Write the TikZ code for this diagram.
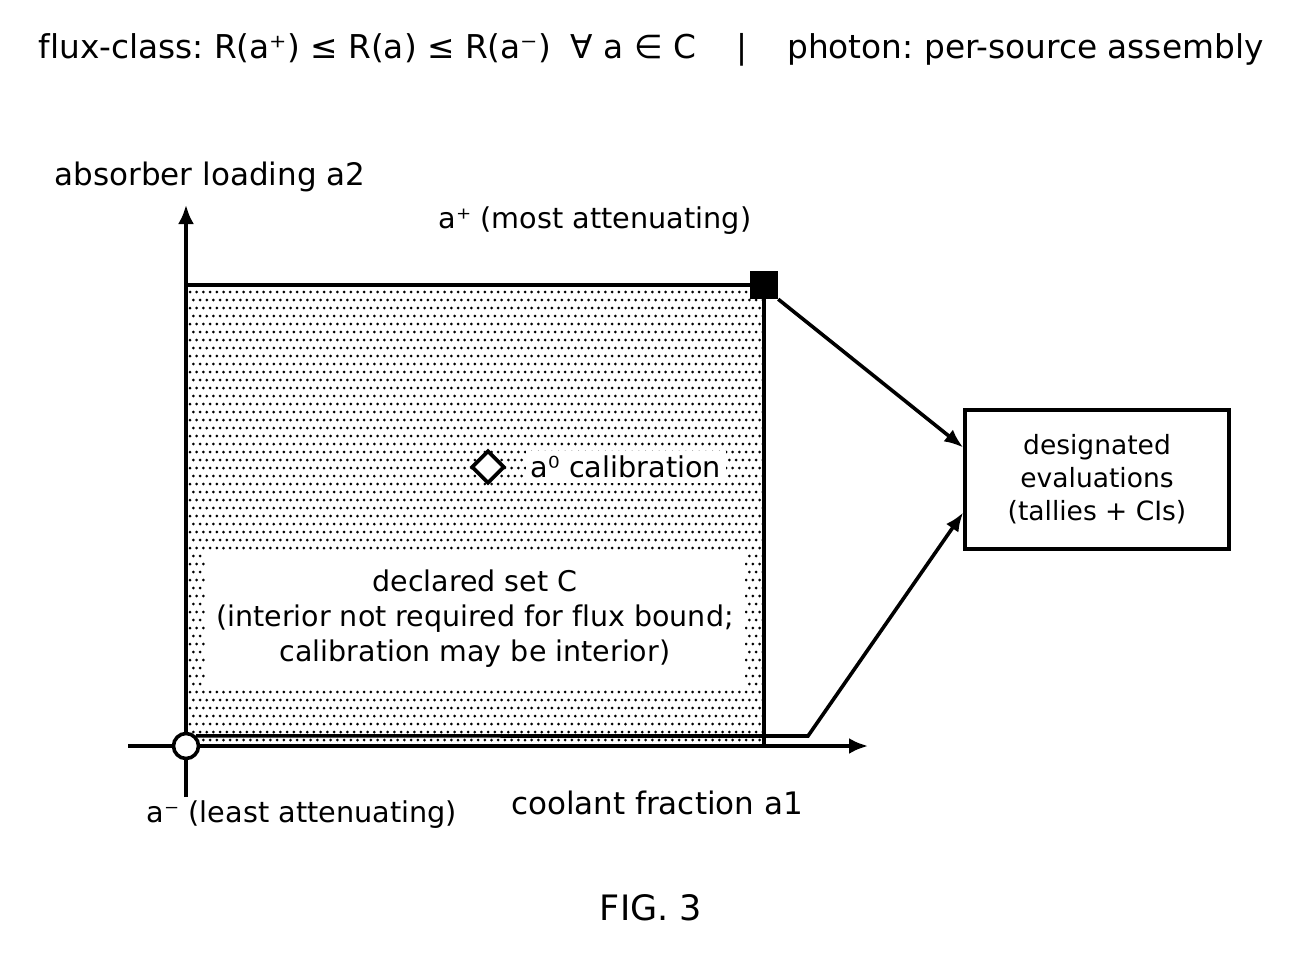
\documentclass[tikz,border=0pt]{standalone}
\usepackage{fontspec}
\setmainfont[Ligatures={NoCommon}]{DejaVu Sans}
\frenchspacing
\usetikzlibrary{arrows.meta,shapes.geometric}
\begin{document}
\begin{tikzpicture}[x=1pt,y=-1pt,
  lbl/.style={inner sep=0pt, font=\fontsize{28.7}{34}\selectfont},
  axlbl/.style={inner sep=0pt, font=\fontsize{31}{36}\selectfont},
  axis/.style={line width=3.6pt, -{Latex[length=19pt,width=16pt]}},
  conn/.style={line width=3.6pt, -{Latex[length=19pt,width=15pt]}},
  edge/.style={line width=3.6pt},
]
\useasboundingbox[fill=white] (0,0) rectangle (1302,958);
% title
\node[inner sep=0pt, font=\fontsize{32.8}{38}\selectfont] (title) at (651,50)
  {flux-class: R(a⁺) ≤ R(a) ≤ R(a⁻)\hspace{20pt}∀ a ∈ C\hspace{40pt}|\hspace{40pt}photon: per-source assembly};
% region C dot fill
\begin{scope}
  \clip (186,285) rectangle (764,746);
  \foreach \j in {0,...,57} {
    \pgfmathsetmacro{\off}{mod(\j,2)*3.35}
    \foreach \i in {0,...,87} {
      \fill ({190+\off+6.7*\i},{292+8*\j}) circle (1.5pt);
    }
  }
\end{scope}
\draw[edge] (186,285) -- (764,285) -- (764,746);
% axes
\draw[axis] (128,746) -- (868,746);
\draw[axis] (186,797) -- (186,205);
\node[axlbl] (ylab) at (210,177) {absorber loading a2};
\node[axlbl] (xlab) at (657,803) {coolant fraction a1};
% interior label
\node[fill=white, inner sep=0pt, minimum width=540pt, minimum height=137pt, align=center,
  font=\fontsize{28.5}{35}\selectfont] (decl) at (475,619)
  {declared set C\\(interior not required for flux bound;\\calibration may be interior)};
% points
\node[fill=black, minimum size=28pt, inner sep=0pt] (amax) at (764,285) {};
\node[circle, draw, fill=white, line width=3.6pt, minimum size=25pt, inner sep=0pt] (amin) at (186,746) {};
\node[diamond, draw, fill=white, line width=3.6pt, minimum width=33pt, minimum height=33pt, inner sep=0pt] (a0) at (488,467) {};
\node[lbl, fill=white, inner sep=5pt] (a0lab) at (626,467) {a⁰ calibration};
\node[lbl] (amaxlab) at (595,221) {a⁺ (most attenuating)};
\node[lbl] (aminlab) at (302,815) {a⁻ (least attenuating)};
% box
\node[draw, line width=3.6pt, fill=white, minimum width=264pt, minimum height=139pt, align=center,
  font=\fontsize{26.5}{33}\selectfont] (box) at (1097,479.5)
  {designated\\evaluations\\(tallies + CIs)};
% connectors
\draw[conn] (amax.south east) -- ([yshift=32pt]box.west);
\draw[conn] (amin.north east) -- (808,736) -- ([yshift=-33pt]box.west);
% caption
\node[inner sep=0pt, font=\fontsize{35}{40}\selectfont] (fig) at (651,908) {FIG. 3};
\end{tikzpicture}
\end{document}
